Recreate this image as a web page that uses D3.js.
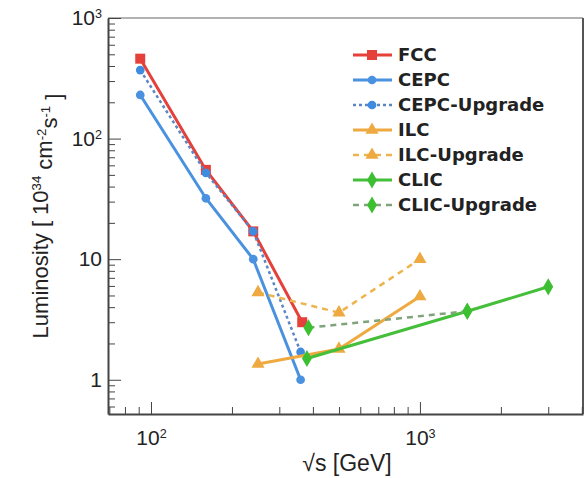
<!DOCTYPE html>
<html>
<head>
<meta charset="utf-8">
<script src="https://cdn.jsdelivr.net/npm/d3@7"></script>
<style>
  html, body { margin: 0; padding: 0; background: #fff; }
  svg { display: block; }
  .axis path, .axis line { stroke: #444; }
  .axis text { font-family: "Liberation Sans", Arial, sans-serif; fill: #222; }
</style>
</head>
<body>
<div class="chart"></div>
<script>
(function() {
  'use strict';

  const WIDTH = 588;
  const HEIGHT = 478;

  // Centre-of-mass energies [GeV] and luminosities [1e34 cm^-2 s^-1]
  const fccE = [91.2, 160, 240, 365];
  const fccL = [460, 55, 17, 3.0];
  const cepcE = [91.2, 160, 240, 360];
  const cepcL = [230, 32, 10, 1.0];
  const cepcUpE = [91.2, 160, 240, 360];
  const cepcUpL = [370, 52, 17, 1.7];
  const ilcE = [250, 500, 1000];
  const ilcL = [1.35, 1.8, 4.9];
  const ilcUpE = [250, 500, 1000];
  const ilcUpL = [5.3, 3.6, 10];
  const clicE = [380, 1500, 3000];
  const clicL = [1.5, 3.7, 5.9];
  const clicUpE = [385, 1500];
  const clicUpL = [2.7, 3.7];

  const names = ['FCC', 'CEPC', 'CEPC-Upgrade', 'ILC', 'ILC-Upgrade', 'CLIC', 'CLIC-Upgrade'];
  const yTicks = [1, 10, 100, 1000];
  const xTicks = [100, 1000];

  // Series table built from the arrays above
  const series = [
    {name: names[0], e: fccE, l: fccL, color: '#e5403a', mcolor: '#e5403a', dash: null, shape: 'square'},
    {name: names[1], e: cepcE, l: cepcL, color: '#4a92e0', mcolor: '#4a92e0', dash: null, shape: 'circle'},
    {name: names[2], e: cepcUpE, l: cepcUpL, color: '#5a86c4', mcolor: '#3f8be0', dash: '3,3', shape: 'circle'},
    {name: names[3], e: ilcE, l: ilcL, color: '#eeaa40', mcolor: '#eeaa40', dash: null, shape: 'triangle'},
    {name: names[4], e: ilcUpE, l: ilcUpL, color: '#eeb44c', mcolor: '#eeaa40', dash: '6,5', shape: 'triangle'},
    {name: names[5], e: clicE, l: clicL, color: '#45bf3a', mcolor: '#3cbf30', dash: null, shape: 'diamond'},
    {name: names[6], e: clicUpE, l: clicUpL, color: '#7fa47a', mcolor: '#3cc030', dash: '6,5', shape: 'diamond'}
  ];

  const svg = d3.select('.chart')
    .append('svg')
    .attr('width', WIDTH)
    .attr('height', HEIGHT);

  const x = d3.scaleLog().domain([69.2, 4040]).range([108, 583]);
  const y = d3.scaleLog().domain([0.52, 1000]).range([414, 18]);

  // minor tick values
  let xMinor = [];
  let yMinor = [];
  for (let dec = 10; dec <= 1000; dec *= 10) {
    for (let m = 2; m <= 9; ++m) {
      if (dec * m > 69.2 && dec * m < 4040) xMinor.push(dec * m);
    }
  }
  for (let dec = 0.1; dec <= 100; dec *= 10) {
    for (let m = 2; m <= 9; ++m) {
      const v = +(dec * m).toPrecision(3);
      if (v > 0.52 && v < 1000) yMinor.push(v);
    }
  }

  // frame: top and right
  svg.append('line')
    .attr('x1', 108).attr('x2', 583).attr('y1', 18).attr('y2', 18)
    .attr('stroke', '#999').attr('stroke-width', 1.5);
  svg.append('line')
    .attr('x1', 583).attr('x2', 583).attr('y1', 18).attr('y2', 414)
    .attr('stroke', '#555').attr('stroke-width', 2);

  // minor ticks
  svg.append('g').attr('class', 'axis')
    .attr('transform', 'translate(108,0)')
    .call(d3.axisLeft(y).tickValues(yMinor).tickSize(-7).tickFormat(''))
    .call(g => g.select('.domain').remove());
  svg.append('g').attr('class', 'axis')
    .attr('transform', 'translate(0,414)')
    .call(d3.axisBottom(x).tickValues(xMinor).tickSize(-7).tickFormat(''))
    .call(g => g.select('.domain').remove());

  function supLabel(d) {
    const t = d3.select(this);
    t.text(null);
    if (d < 100) {
      t.text(d);
      return;
    }
    t.append('tspan').text('10');
    t.append('tspan').attr('dy', '-0.55em').attr('font-size', '0.6em').text(Math.round(Math.log10(d)));
  }

  // major ticks with labels
  const gy = svg.append('g').attr('class', 'axis')
    .attr('transform', 'translate(108,0)')
    .call(d3.axisLeft(y).tickValues(yTicks).tickSizeInner(-13).tickSizeOuter(0).tickPadding(6));
  gy.select('.domain').attr('stroke-width', 2);
  gy.selectAll('.tick text').attr('font-size', 21).each(supLabel);

  const gx = svg.append('g').attr('class', 'axis')
    .attr('transform', 'translate(0,414)')
    .call(d3.axisBottom(x).tickValues(xTicks).tickSizeInner(-12).tickSizeOuter(0).tickPadding(16));
  gx.select('.domain').attr('stroke-width', 2);
  gx.selectAll('.tick text').attr('font-size', 21).each(supLabel);

  // axis titles
  svg.append('text')
    .attr('x', 347).attr('y', 471)
    .attr('text-anchor', 'middle')
    .attr('font-family', '"Liberation Sans", Arial, sans-serif')
    .attr('font-size', 23)
    .attr('fill', '#222')
    .text('\u221As [GeV]');

  const yl = svg.append('text')
    .attr('transform', 'translate(48,216) rotate(-90)')
    .attr('text-anchor', 'middle')
    .attr('font-family', '"Liberation Sans", Arial, sans-serif')
    .attr('font-size', 22)
    .attr('fill', '#222');
  yl.append('tspan').text('Luminosity [ 10');
  yl.append('tspan').attr('dy', '-0.5em').attr('font-size', '0.6em').text('34');
  yl.append('tspan').attr('dy', '0.5em').text(' cm');
  yl.append('tspan').attr('dy', '-0.5em').attr('font-size', '0.6em').text('-2');
  yl.append('tspan').attr('dy', '0.5em').text('s');
  yl.append('tspan').attr('dy', '-0.5em').attr('font-size', '0.6em').text('-1');
  yl.append('tspan').attr('dy', '0.5em').text(' ]');

  // markers
  const symbols = {
    square: d3.symbol().type(d3.symbolSquare).size(100),
    circle: d3.symbol().type(d3.symbolCircle).size(60),
    triangle: d3.symbol().type(d3.symbolTriangle).size(75),
    diamond: d3.symbol().type(d3.symbolDiamond).size(85)
  };

  const line = d3.line()
    .x(d => x(d[0]))
    .y(d => y(d[1]));

  // Draw each series: path then markers
  for (let i = 0; i < series.length; ++i) {
    const s = series[i];
    const pts = s.e.map((e, j) => [e, s.l[j]]);
    const g = svg.append('g').attr('class', 'series');
    g.append('path')
      .attr('d', line(pts))
      .attr('fill', 'none')
      .attr('stroke', s.color)
      .attr('stroke-width', s.dash ? 2.5 : 3)
      .attr('stroke-dasharray', s.dash);
    g.selectAll('path.mark')
      .data(pts)
      .enter().append('path')
      .attr('class', 'mark')
      .attr('d', symbols[s.shape])
      .attr('transform', d => 'translate(' + x(d[0]) + ',' + y(d[1]) + ')')
      .attr('fill', s.mcolor);
  }

  // Legend
  const leg = svg.append('g').attr('class', 'legend');
  for (let i = 0; i < series.length; ++i) {
    const s = series[i];
    const yy = 55 + i * 25;
    leg.append('line')
      .attr('x1', 353).attr('x2', 392).attr('y1', yy).attr('y2', yy)
      .attr('stroke', s.color)
      .attr('stroke-width', s.dash ? 2.5 : 3)
      .attr('stroke-dasharray', s.dash);
    leg.append('path')
      .attr('d', symbols[s.shape])
      .attr('transform', 'translate(372,' + yy + ')')
      .attr('fill', s.mcolor);
    leg.append('text')
      .attr('x', 398).attr('y', yy + 6)
      .attr('font-family', '"DejaVu Sans", sans-serif')
      .attr('font-weight', 'bold')
      .attr('font-size', 18)
      .attr('fill', '#222')
      .text(s.name);
  }
})();
</script>
</body>
</html>
